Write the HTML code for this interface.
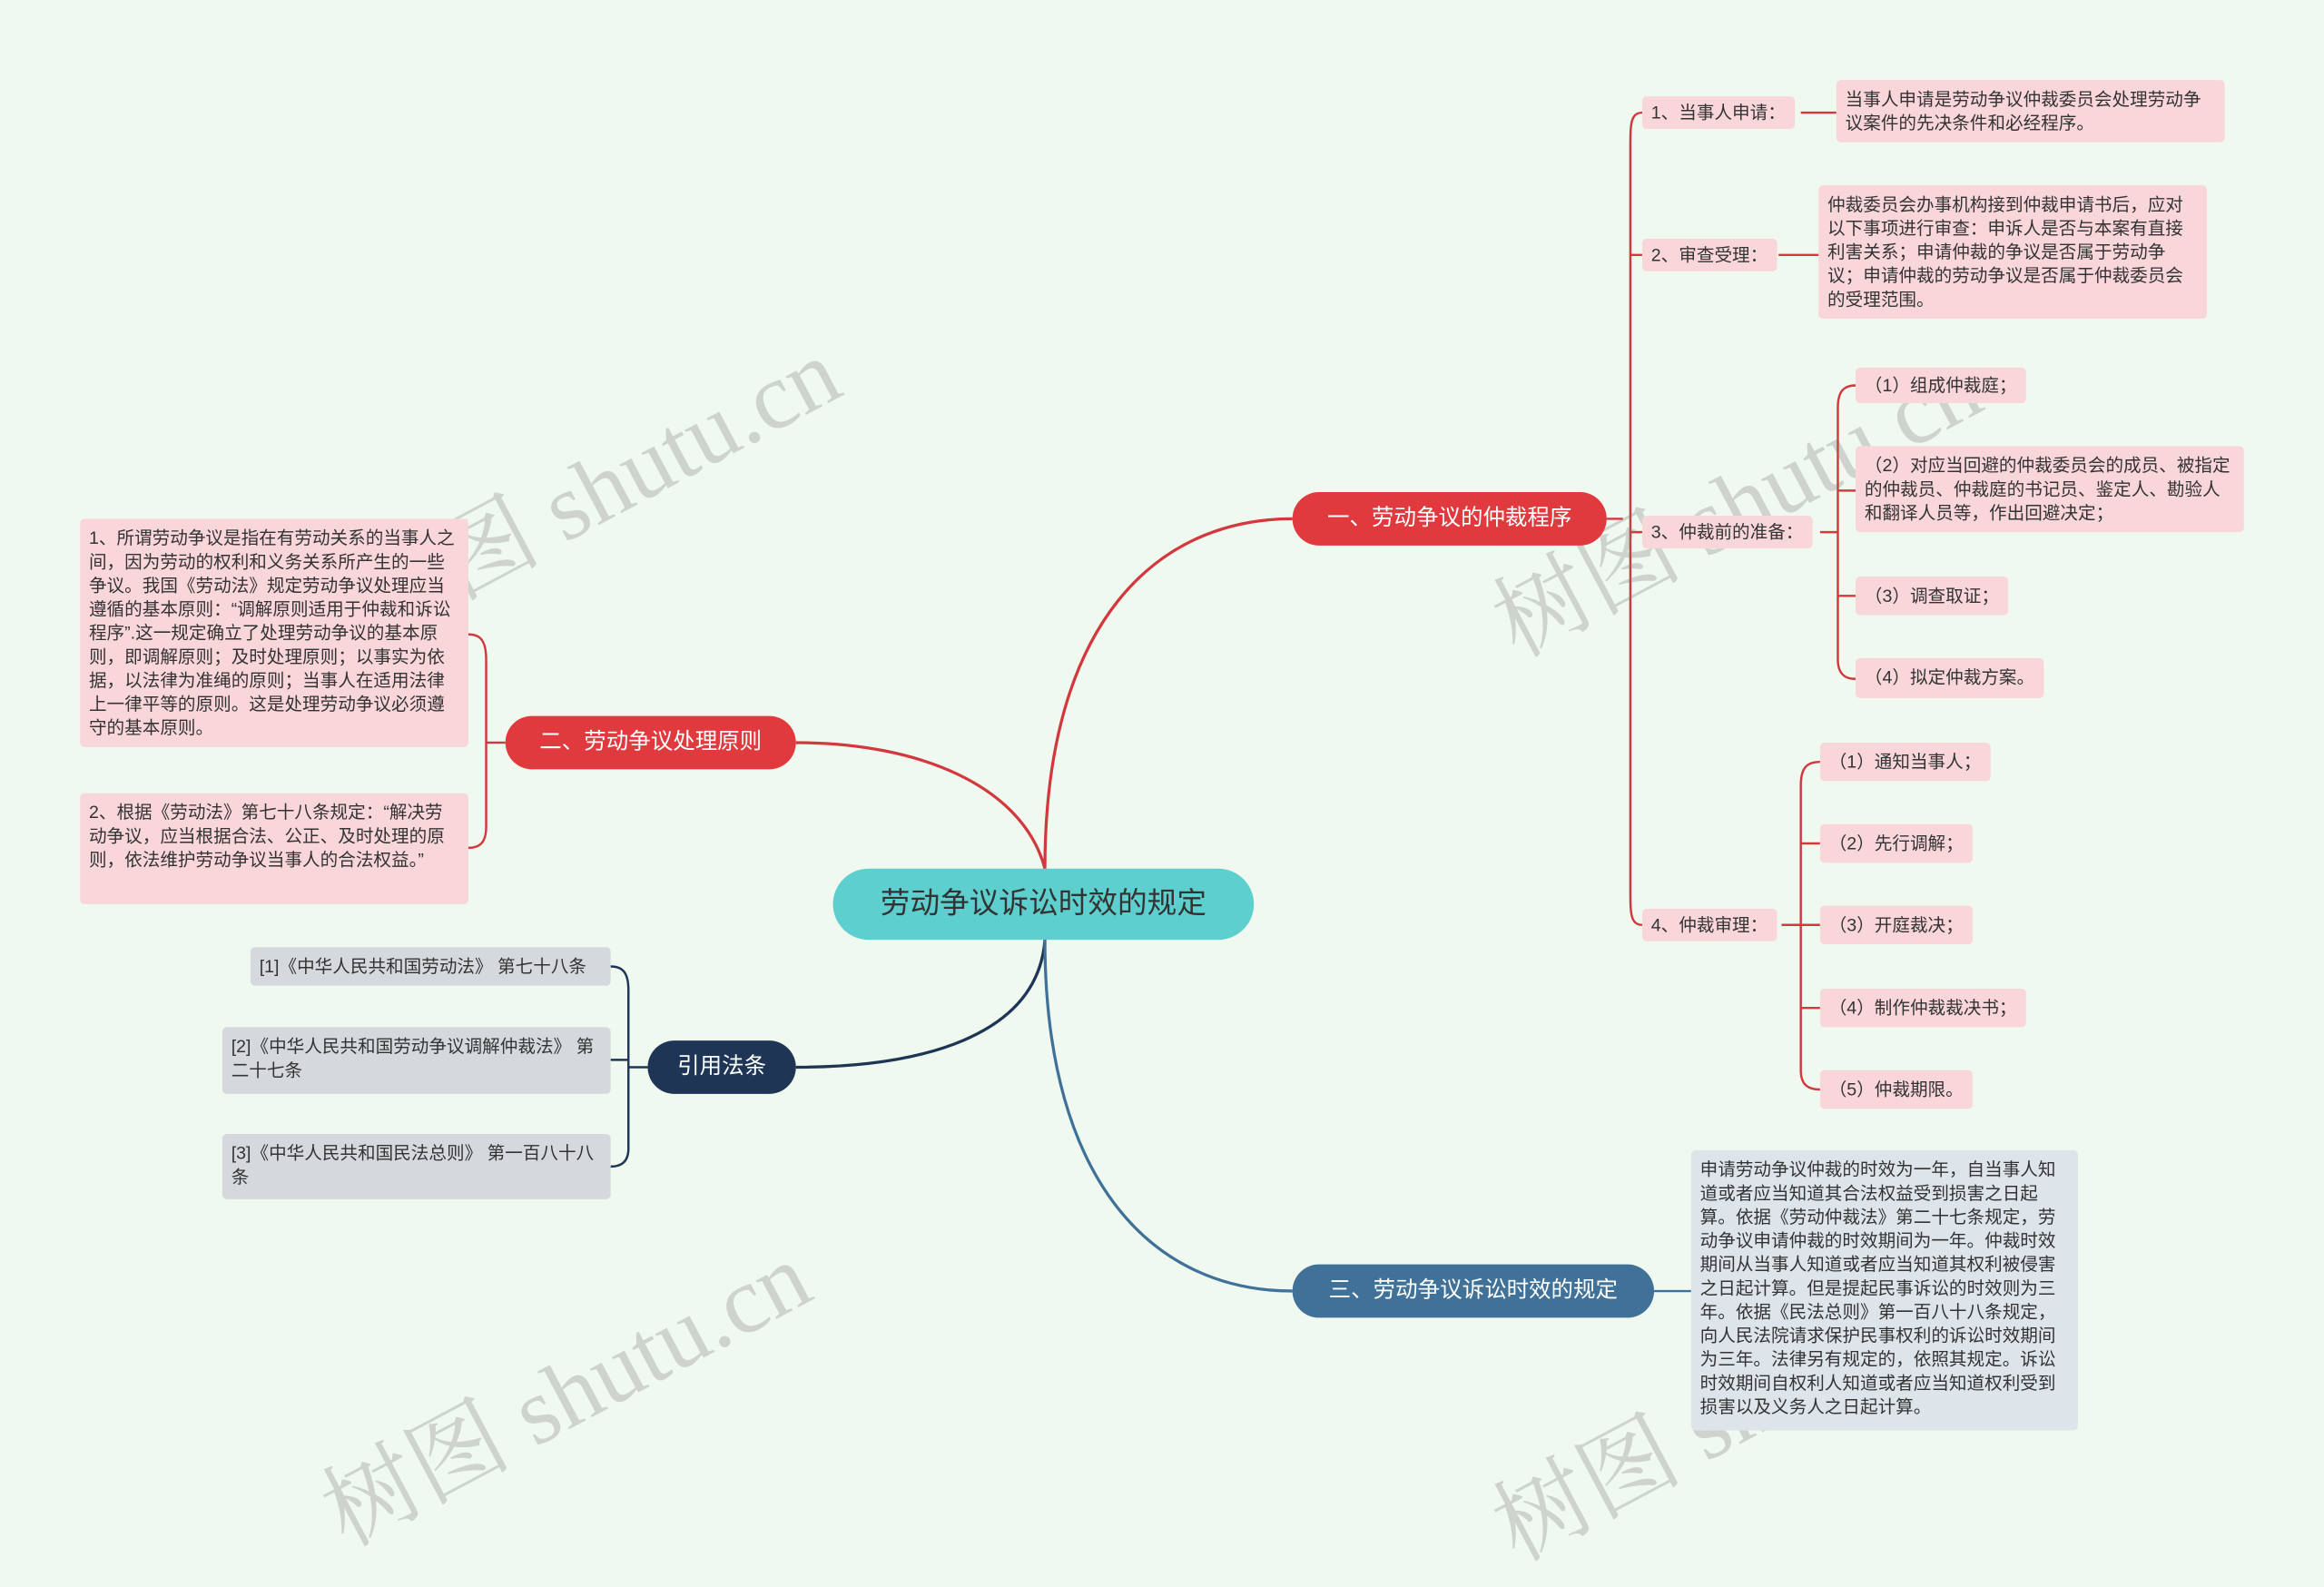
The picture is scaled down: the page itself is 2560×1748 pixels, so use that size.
<!DOCTYPE html>
<html><head><meta charset="utf-8"><style>
html,body{margin:0;padding:0;background:#f0f9ef;overflow:hidden}
#w{position:absolute;left:0;top:0;width:1568px;height:1019px;transform:scale(1.63265);transform-origin:0 0;font-family:"Liberation Sans","Noto Sans CJK SC",sans-serif}
.n{position:absolute;box-sizing:border-box}
.pill{border-radius:18px;color:#fff;font-size:15px;text-align:center;line-height:36px;height:36px}
.lf{background:#f9d6da;color:#333;font-size:12px;line-height:16px;padding:5px 6px;border-radius:3px}
.sl{background:#f9d6da;color:#333;font-size:12px;line-height:22px;height:22px;padding:0 6px;border-radius:3px}
.gl{background:#d5d9de;color:#333;font-size:12px;line-height:16px;padding:5px 6px;border-radius:3px}
.wm{position:absolute;font-size:64px;color:rgba(120,120,120,0.28);transform:rotate(-28deg);font-family:"Liberation Serif","Noto Serif CJK SC",serif;white-space:nowrap}
</style></head><body><div id="w">
<svg width="1568" height="1019" style="position:absolute;left:0;top:0" fill="none" stroke-width="2">
<path d="M705 586 C705 420 780 350 872 350" stroke="#d2393f"/>
<path d="M705 586 C690 530 620 501 537 501" stroke="#d2393f"/>
<path d="M705 634 C700 700 620 720 537 720" stroke="#1e3556"/>
<path d="M705 634 C705 800 780 871 872 871" stroke="#3f7199"/>
<g stroke="#d2393f" stroke-width="1.5">
<path d="M1084 350 H1095"/>
<path d="M1108 76 C1100 76 1100 84 1100 100 V600 C1100 616 1100 624 1108 624"/>
<path d="M1100 172 H1108 M1100 359 H1108"/>
<path d="M1215 76 H1239 M1200 172 H1227"/>
<path d="M1228 359 H1240"/>
<path d="M1252 260 C1244 260 1240 264 1240 275 V445 C1240 454 1244 458 1252 458"/>
<path d="M1240 331 H1252 M1240 402 H1252"/>
<path d="M1202 624 H1215"/>
<path d="M1228 514 C1219 514 1215 518 1215 530 V722 C1215 731 1219 735 1228 735"/>
<path d="M1215 569 H1228 M1215 624 H1228 M1215 680 H1228"/>
<path d="M341 501 H328"/>
<path d="M316 428 C324 428 328 432 328 445 V558 C328 568 324 572 316 572"/>
</g>
<g stroke="#1e3556" stroke-width="1.5">
<path d="M437 720 H424"/>
<path d="M412 652 C420 652 424 656 424 668 V775 C424 783 420 787 412 787"/>
<path d="M412 715 H424"/>
</g>
<path d="M1116 871 H1141" stroke="#3f7199" stroke-width="1.5"/>
</svg>
<div class="wm" style="left:220px;top:280px">树图 shutu.cn</div>
<div class="wm" style="left:990px;top:290px">树图 shutu.cn</div>
<div class="wm" style="left:200px;top:890px">树图 shutu.cn</div>
<div class="wm" style="left:990px;top:900px">树图 shutu.cn</div>

<div class="n" style="left:562px;top:586px;width:284px;height:48px;background:#5ecfcf;border-radius:24px;font-size:20px;line-height:48px;text-align:center;color:#333">劳动争议诉讼时效的规定</div>
<div class="n pill" style="left:872px;top:332px;width:212px;background:#e0393e">一、劳动争议的仲裁程序</div>
<div class="n pill" style="left:341px;top:483px;width:196px;background:#e0393e">二、劳动争议处理原则</div>
<div class="n pill" style="left:437px;top:702px;width:100px;background:#1e3556">引用法条</div>
<div class="n pill" style="left:872px;top:853px;width:244px;background:#3f7199">三、劳动争议诉讼时效的规定</div>

<div class="n sl" style="left:1108px;top:65px">1、当事人申请：</div>
<div class="n sl" style="left:1108px;top:161px">2、审查受理：</div>
<div class="n sl" style="left:1108px;top:348px">3、仲裁前的准备：</div>
<div class="n sl" style="left:1108px;top:613px">4、仲裁审理：</div>

<div class="n lf" style="left:1239px;top:54px;width:262px">当事人申请是劳动争议仲裁委员会处理劳动争议案件的先决条件和必经程序。</div>
<div class="n lf" style="left:1227px;top:125px;width:262px">仲裁委员会办事机构接到仲裁申请书后，应对以下事项进行审查：申诉人是否与本案有直接利害关系；申请仲裁的争议是否属于劳动争议；申请仲裁的劳动争议是否属于仲裁委员会的受理范围。</div>
<div class="n sl" style="left:1252px;top:248px;height:24px;line-height:24px">（1）组成仲裁庭；</div>
<div class="n lf" style="left:1252px;top:301px;width:262px">（2）对应当回避的仲裁委员会的成员、被指定的仲裁员、仲裁庭的书记员、鉴定人、勘验人和翻译人员等，作出回避决定；</div>
<div class="n sl" style="left:1252px;top:389px;height:26px;line-height:26px">（3）调查取证；</div>
<div class="n sl" style="left:1252px;top:444px;height:27px;line-height:27px">（4）拟定仲裁方案。</div>
<div class="n sl" style="left:1228px;top:501px;height:26px;line-height:26px">（1）通知当事人；</div>
<div class="n sl" style="left:1228px;top:556px;height:26px;line-height:26px">（2）先行调解；</div>
<div class="n sl" style="left:1228px;top:611px;height:26px;line-height:26px">（3）开庭裁决；</div>
<div class="n sl" style="left:1228px;top:667px;height:26px;line-height:26px">（4）制作仲裁裁决书；</div>
<div class="n sl" style="left:1228px;top:722px;height:26px;line-height:26px">（5）仲裁期限。</div>

<div class="n lf" style="left:54px;top:350px;width:262px">1、所谓劳动争议是指在有劳动关系的当事人之间，因为劳动的权利和义务关系所产生的一些争议。我国《劳动法》规定劳动争议处理应当遵循的基本原则：“调解原则适用于仲裁和诉讼程序”.这一规定确立了处理劳动争议的基本原则，即调解原则；及时处理原则；以事实为依据，以法律为准绳的原则；当事人在适用法律上一律平等的原则。这是处理劳动争议必须遵守的基本原则。</div>
<div class="n lf" style="left:54px;top:535px;width:262px;height:75px">2、根据《劳动法》第七十八条规定：“解决劳动争议，应当根据合法、公正、及时处理的原则，依法维护劳动争议当事人的合法权益。”</div>

<div class="n gl" style="left:169px;top:639px;width:243px;height:26px">[1]《中华人民共和国劳动法》 第七十八条</div>
<div class="n gl" style="left:150px;top:693px;width:262px;height:45px">[2]《中华人民共和国劳动争议调解仲裁法》 第二十七条</div>
<div class="n gl" style="left:150px;top:765px;width:262px;height:44px">[3]《中华人民共和国民法总则》 第一百八十八条</div>

<div class="n lf" style="left:1141px;top:776px;width:261px;height:189px;background:#dde5ea">申请劳动争议仲裁的时效为一年，自当事人知道或者应当知道其合法权益受到损害之日起算。依据《劳动仲裁法》第二十七条规定，劳动争议申请仲裁的时效期间为一年。仲裁时效期间从当事人知道或者应当知道其权利被侵害之日起计算。但是提起民事诉讼的时效则为三年。依据《民法总则》第一百八十八条规定，向人民法院请求保护民事权利的诉讼时效期间为三年。法律另有规定的，依照其规定。诉讼时效期间自权利人知道或者应当知道权利受到损害以及义务人之日起计算。</div>
</div></body></html>
